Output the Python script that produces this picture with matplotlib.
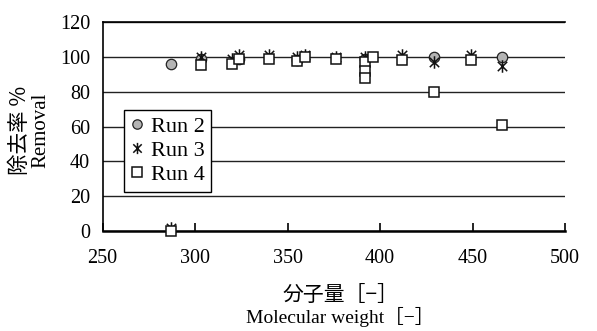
import matplotlib
matplotlib.use("Agg")
import matplotlib.pyplot as plt
from matplotlib.path import Path

# ---- data ----
run2_x = [287, 303, 324, 355, 392, 429, 466]
run2_y = [96, 99, 99, 98, 99, 100, 100]

run3_x = [287, 303, 320, 324, 340, 355, 359.5, 376, 392, 412, 429, 449, 466]
run3_y = [2, 100, 99, 101, 101, 100, 101, 100, 100, 101, 97, 101, 95]

run4_x = [287, 303, 320, 324, 340, 355, 359.5, 376, 392, 392, 392, 396, 412, 429, 449, 466]
run4_y = [0, 95.5, 96, 99, 99, 97.5, 100, 99, 97, 92, 88, 100, 98, 80, 98, 61]

xticks = [250, 300, 350, 400, 450, 500]
yticks = [0, 20, 40, 60, 80, 100, 120]

SERIF = ["Liberation Serif", "Noto Sans CJK JP"]
CJK = ["Noto Sans CJK JP", "DejaVu Sans"]

# asterisk marker: X plus vertical line
ast = Path([(0, -1), (0, 1), (-0.75, -0.75), (0.75, 0.75), (-0.75, 0.75), (0.75, -0.75)],
           [Path.MOVETO, Path.LINETO, Path.MOVETO, Path.LINETO, Path.MOVETO, Path.LINETO])

fig = plt.figure(figsize=(5.97, 3.31), dpi=100)
ax = fig.add_axes([0.1717, 0.3021, 0.9464 - 0.1717, 0.9335 - 0.3021])

ax.set_xlim(250, 500)
ax.set_ylim(0, 120)
ax.set_yticks(yticks)
ax.set_xticks(xticks)
ax.yaxis.grid(True, color="#222222", linewidth=1.0)
ax.set_axisbelow(True)

ax.spines["right"].set_visible(False)
ax.spines["top"].set_linewidth(1.2)
ax.spines["left"].set_linewidth(1.2)
ax.spines["bottom"].set_linewidth(1.8)

ax.tick_params(axis="x", direction="in", length=6, width=1.2, pad=13)
ax.tick_params(axis="y", length=0, pad=9)
for lab in ax.get_xticklabels() + ax.get_yticklabels():
    lab.set_family(SERIF)
    lab.set_fontsize(14.5)

ax.plot(run2_x, run2_y, linestyle="none", marker="o", markersize=7.5,
        markerfacecolor="#b4b4b4", markeredgecolor="#222222", markeredgewidth=0.9,
        label="Run 2", zorder=3, clip_on=False)
ax.plot(run3_x, run3_y, linestyle="none", marker=ast, markersize=9,
        markeredgecolor="#111111", markeredgewidth=1.1, color="#111111",
        label="Run 3", zorder=4, clip_on=False)
ax.plot(run4_x, run4_y, linestyle="none", marker="s", markersize=7.5,
        markerfacecolor="white", markeredgecolor="#111111", markeredgewidth=1.1,
        label="Run 4", zorder=5, clip_on=False)

leg = ax.legend(loc="upper left", bbox_to_anchor=(0.0465, 0.579),
                prop={"family": SERIF, "size": 16}, frameon=True, fancybox=False,
                edgecolor="black", framealpha=1.0, handlelength=0.6,
                handletextpad=0.3, labelspacing=0.15, borderpad=0.3,
                borderaxespad=0, markerscale=0.9)
leg.get_frame().set_linewidth(1.0)

fig.text(0.0335, 0.607, "除去率 %", rotation=90, ha="center", va="center",
         family=CJK, fontsize=15.5)
fig.text(0.0687, 0.607, "Removal", rotation=90, ha="center", va="center",
         family=SERIF, fontsize=15)
fig.text(0.571, 1 - 295 / 331, "分子量［−］", ha="center", va="center",
         family=CJK, fontsize=15)
fig.text(0.570, 1 - 317 / 331, "Molecular weight［−］", ha="center", va="center",
         family=SERIF, fontsize=14)

fig.savefig("out.png", dpi=100)
